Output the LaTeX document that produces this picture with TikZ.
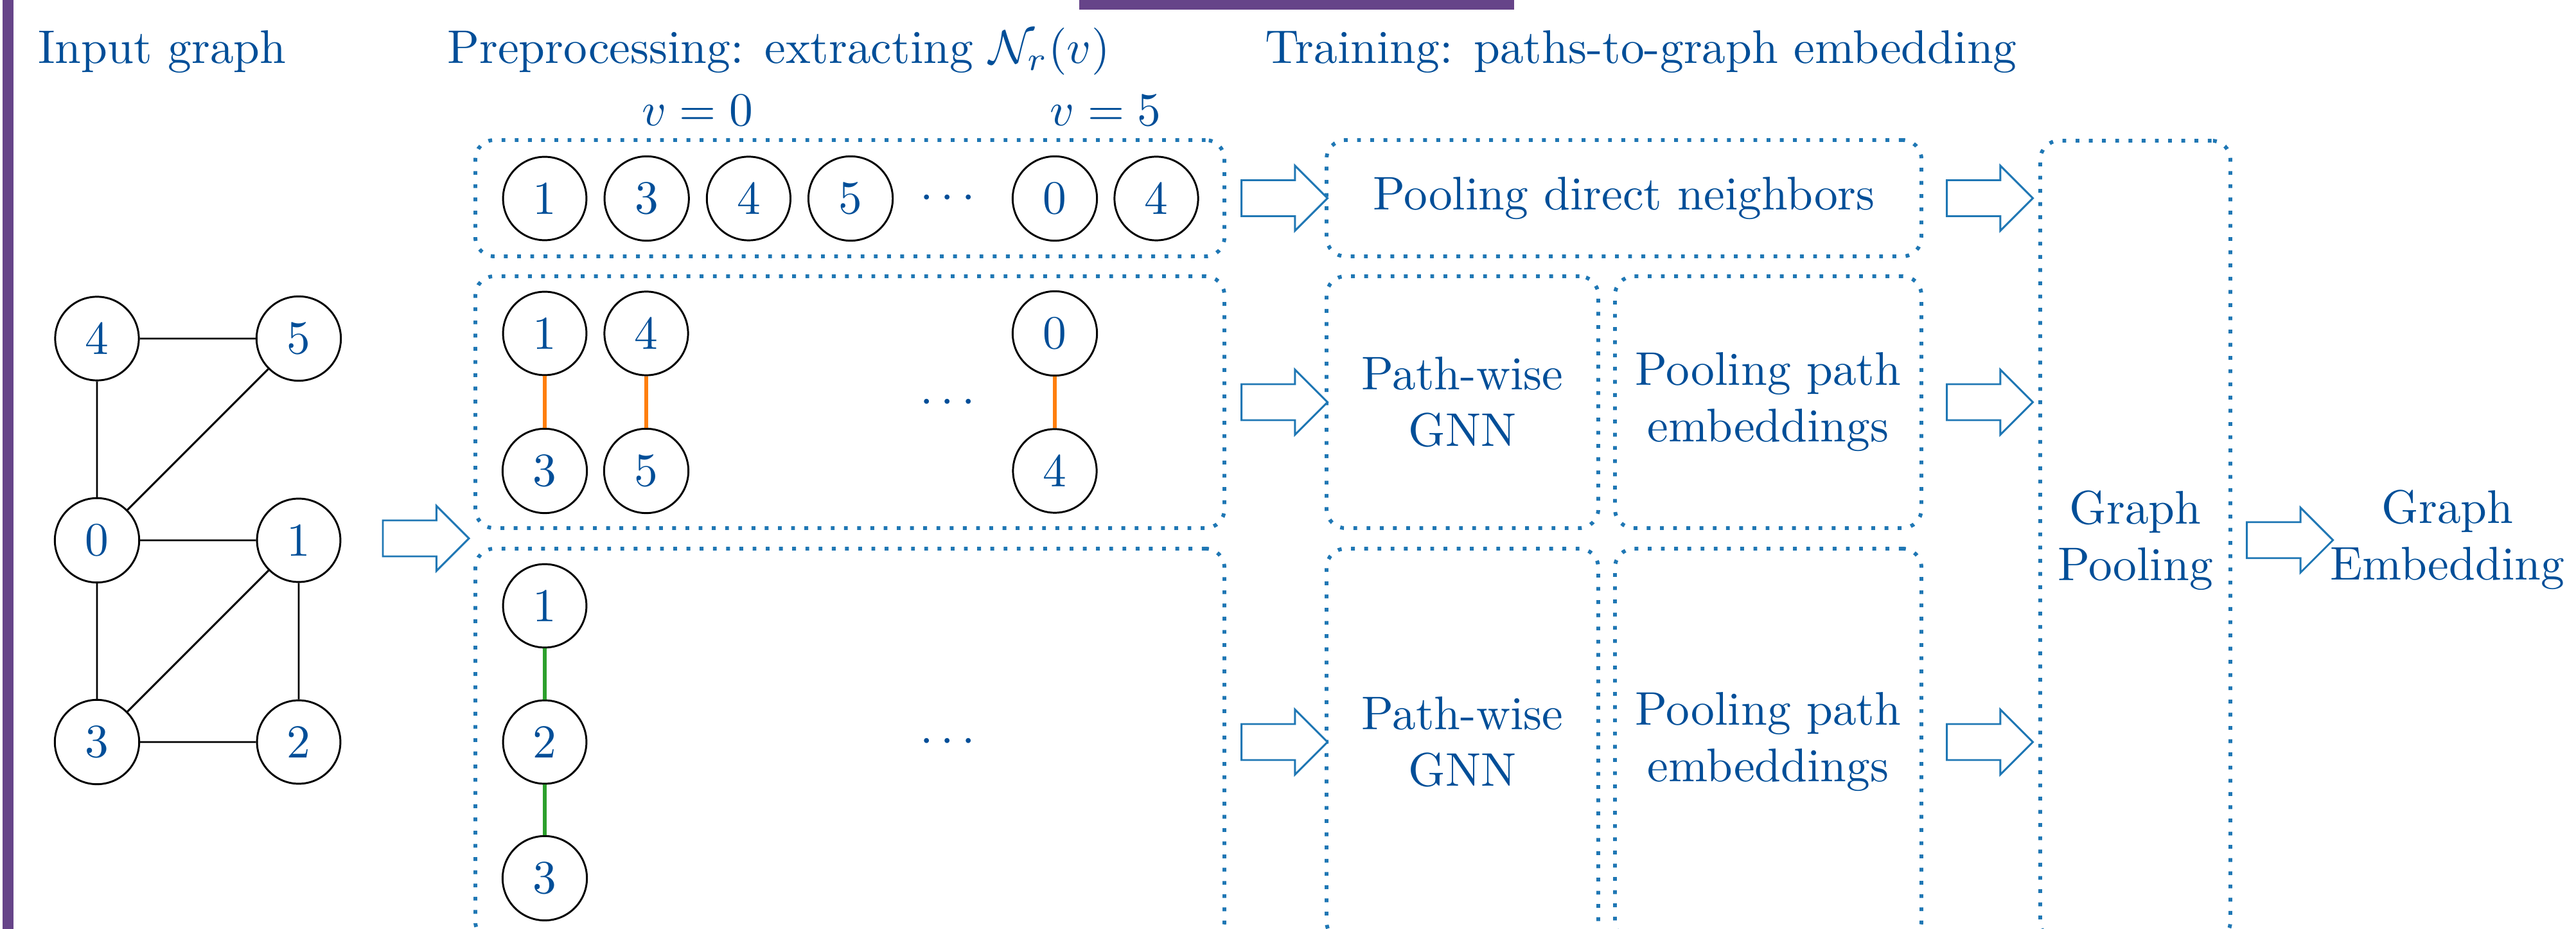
\documentclass[tikz,border=0pt]{standalone}
\usetikzlibrary{shapes.arrows,fit,calc}

\definecolor{txtblue}{RGB}{0,78,152}
\definecolor{boxblue}{RGB}{31,119,180}
\definecolor{framepurple}{RGB}{102,68,137}
\definecolor{pathorange}{RGB}{255,127,14}
\definecolor{pathgreen}{RGB}{44,160,44}

\tikzset{
    vert/.style={circle, draw, text=txtblue},
    stagebox/.style={draw=boxblue, thick, dotted, rounded corners, inner sep=0pt},
    stagetxt/.style={text=txtblue, align=center},
    blockarr/.style={single arrow, draw=boxblue, fill=white, inner xsep=0pt, inner ysep=0.127cm,
        minimum height=0.641cm, single arrow head extend=0.108cm},
    headtxt/.style={text=txtblue, inner sep=0pt, anchor=base west}
}

\begin{document}
\begin{tikzpicture}[x=0.4785cm, y=-0.4785cm]
            \useasboundingbox (0,0) rectangle (40.10,14.46);
            % frame bars of the slide
            \fill[framepurple] (0.04,0) rectangle (0.21,14.46);
            \fill[framepurple] (16.80,0) rectangle (23.57,0.15);

            \node[headtxt] (hin) at (0.58,0.99) {Input graph};
            \node[headtxt] (hpre) at (6.95,0.99) {Preprocessing: extracting $\mathcal{N}_r(v)$};
            \node[headtxt] (htrain) at (19.68,0.99) {Training: paths-to-graph embedding};

            % input graph
            \node[vert] (g4) at (1.51,5.27) {4};
            \node[vert] (g5) at (4.65,5.27) {5};
            \node[vert] (g0) at (1.51,8.41) {0};
            \node[vert] (g1) at (4.65,8.41) {1};
            \node[vert] (g3) at (1.51,11.55) {3};
            \node[vert] (g2) at (4.65,11.55) {2};
            \draw (g4) -- (g5) (g4) -- (g0) (g0) -- (g5) (g0) -- (g1)
                  (g0) -- (g3) (g3) -- (g1) (g1) -- (g2) (g3) -- (g2);

            \node[blockarr] (ain) at (6.49,8.38) {};

            % preprocessing
            \node[stagebox, fit={(7.40,2.18) (19.06,3.99)}] (row1) {};
            \node[stagebox, fit={(7.40,4.30) (19.06,8.22)}] (row2) {};
            \node[stagebox, fit={(7.40,8.54) (19.06,14.64)}] (row3) {};

            \node[text=txtblue, anchor=base] (vzero) at (10.855,1.96) {$v=0$};
            \node[text=txtblue, anchor=base] (vfive) at (17.21,1.96) {$v=5$};

            \foreach \lab [count=\i] in {1,3,4,5}
                \node[vert] (s\i) at ({8.48+(\i-1)*1.587},3.09) {\lab};
            \node[text=txtblue] (sdots) at (14.75,3.09) {$\cdots$};
            \node[vert] (s5) at (16.42,3.09) {0};
            \node[vert] (s6) at (18.00,3.09) {4};

            \foreach \a/\b/\x [count=\i] in {1/3/8.48, 4/5/10.06, 0/4/16.42}
                {\node[vert] (pa\i) at (\x,5.19) {\a};
                 \node[vert] (pb\i) at (\x,7.33) {\b};
                 \draw[pathorange, thick] (pa\i) -- (pb\i);}
            \node[text=txtblue] (pdots) at (14.75,6.27) {$\cdots$};

            \node[vert] (q1) at (8.48,9.43) {1};
            \node[vert] (q2) at (8.48,11.55) {2};
            \node[vert] (q3) at (8.48,13.67) {3};
            \draw[pathgreen, thick] (q1) -- (q2) -- (q3);
            \node[text=txtblue] (qdots) at (14.75,11.55) {$\cdots$};

            % training
            \node[stagebox, fit={(20.65,2.18) (29.91,3.99)}] (pdn) {};
            \node[stagebox, fit={(20.65,4.30) (24.88,8.22)}] (gnn2) {};
            \node[stagebox, fit={(25.14,4.30) (29.91,8.22)}] (pool2) {};
            \node[stagebox, fit={(20.65,8.54) (24.88,14.64)}] (gnn3) {};
            \node[stagebox, fit={(25.14,8.54) (29.91,14.64)}] (pool3) {};
            \node[stagebox, fit={(31.76,2.19) (34.72,14.64)}] (gpool) {};

            \node[stagetxt] (tpdn) at (pdn.center) {Pooling direct neighbors};
            \node[stagetxt] (tgnn2) at (gnn2.center) {Path-wise\\GNN};
            \node[stagetxt] (tpool2) at (pool2.center) {Pooling path\\embeddings};
            \node[stagetxt] (tgnn3) at (22.765,11.55) {Path-wise\\GNN};
            \node[stagetxt] (tpool3) at (27.525,11.55) {Pooling path\\embeddings};
            \node[stagetxt] (tgpool) at (gpool.center) {Graph\\Pooling};
            \node[stagetxt, inner sep=0pt] (gemb) at (38.10,8.40) {Graph\\Embedding};

            \node[blockarr] (a1) at ($(row1.east)!.5!(pdn.west)$) {};
            \node[blockarr] (a2) at ($(row2.east)!.5!(gnn2.west)$) {};
            \node[blockarr] (a3) at ($(row3.east |- q2)!.5!(gnn3.west |- q2)$) {};
            \node[blockarr] (a4) at ($(pdn.east)!.5!(pdn.east -| gpool.west)$) {};
            \node[blockarr] (a5) at ($(pool2.east)!.5!(pool2.east -| gpool.west)$) {};
            \node[blockarr] (a6) at ($(pool3.east |- q2)!.5!(q2 -| gpool.west)$) {};
            \node[blockarr] (a7) at ($(gpool.east)!.5!(gemb.west)$) {};
\end{tikzpicture}
\end{document}
